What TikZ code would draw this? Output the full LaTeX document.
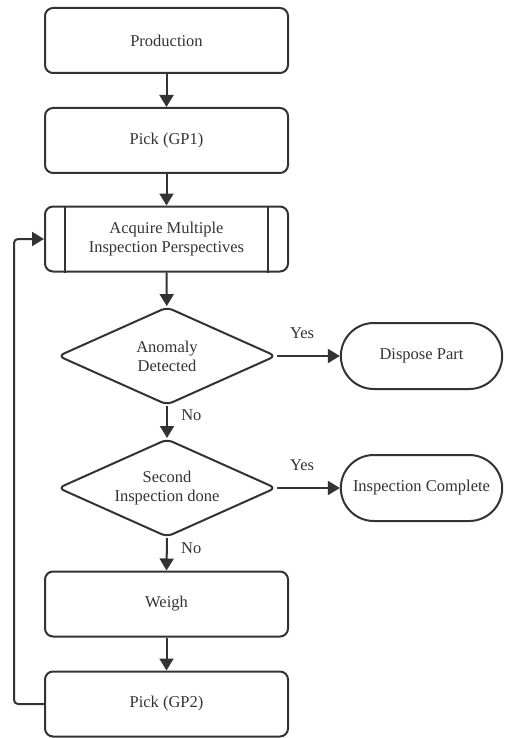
\documentclass[tikz,border=0pt]{standalone}
\usepackage{fontspec}
\setmainfont{Liberation Serif}
\usetikzlibrary{positioning,arrows.meta,shapes.geometric,shapes.misc}
\definecolor{ink}{HTML}{333333}
\tikzset{procbox/.style={draw=ink,line width=2pt,rounded corners=8pt,minimum width=243pt,minimum height=65pt,align=center,text=ink,font=\fontsize{16.5}{19}\selectfont}}
\tikzset{decide/.style={diamond,aspect=2.2,draw=ink,line width=2pt,rounded corners=6pt,minimum width=218pt,minimum height=98pt,inner sep=1pt,align=center,text=ink,font=\fontsize{16.5}{19}\selectfont}}
\tikzset{term/.style={rounded rectangle,draw=ink,line width=2pt,minimum width=168pt,minimum height=66pt,text=ink,font=\fontsize{16.5}{19}\selectfont}}
\tikzset{flow/.style={draw=ink,line width=2pt,-{Triangle[length=12pt,width=14pt]}}}
\tikzset{tag/.style={text=ink,font=\fontsize{16.5}{19}\selectfont}}

\begin{document}
\begin{tikzpicture}[x=1pt,y=-1pt]
  \useasboundingbox (0,0) rectangle (504,738);
  \node[procbox] (prod) at (166.5,40.5) {Production};
  \node[procbox] (pick1) at (166.5,140.5) {Pick (GP1)};
  \node[procbox] (acq) at (166.5,239) {Acquire Multiple\\Inspection Perspectives};
    \draw[ink,line width=2pt] ([xshift=21pt]acq.north west) -- ([xshift=21pt]acq.south west);
    \draw[ink,line width=2pt] ([xshift=-21pt]acq.north east) -- ([xshift=-21pt]acq.south east);
  \node[decide] (anom) at (167,356) {Anomaly\\Detected};
  \node[term] (disp) at (421.5,356) {Dispose Part};
  \node[decide] (second) at (167,488) {Second\\Inspection done};
  \node[term] (done) at (421.5,488) {Inspection Complete};
  \node[procbox] (weigh) at (166.5,604) {Weigh};
  \node[procbox] (pick2) at (166.5,704) {Pick (GP2)};
  \coordinate (loop) at (14,0);
  % main line
  \draw[flow] (prod) -- (pick1);
  \draw[flow] (pick1) -- (acq);
  \draw[flow] (acq) -- (anom);
  \draw[flow] (anom.east) -- (disp.west) node[tag,pos=0.4,above=13pt] {Yes};
  \draw[flow] (anom.south) -- (second.north) node[tag,pos=0.3,right=10pt] {No};
  \draw[flow] (second.east) -- (done.west) node[tag,pos=0.4,above=13pt] {Yes};
  \draw[flow] (second.south) -- (weigh.north) node[tag,pos=0.3,right=10pt] {No};
  \draw[flow] (weigh) -- (pick2);
  % back to acquisition
  \draw[flow,rounded corners=4pt] (pick2.west) -| (loop |- acq.west) -- (acq.west);
\end{tikzpicture}
\end{document}
